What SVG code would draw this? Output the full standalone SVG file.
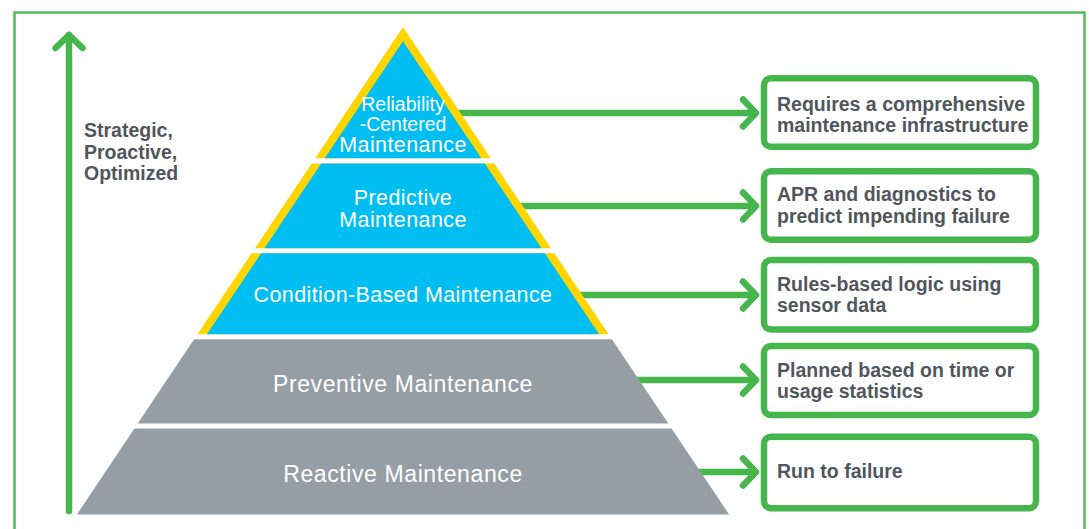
<svg xmlns="http://www.w3.org/2000/svg" width="1089" height="529" viewBox="0 0 1089 529">
  <defs>
    <style>
      .frame { fill: none; stroke: #4cb952; stroke-width: 2.4; }
      .rim { fill: #ffd500; }
      .blue { fill: #00bdf2; }
      .gray { fill: #969ea5; }
      .lvl { font-family: "Liberation Sans", Arial, sans-serif; fill: #ffffff; text-anchor: middle; }
      .lvl-s { font-size: 19.5px; }
      .lvl-m { font-size: 21.5px; letter-spacing: 0.4px; }
      .lvl-l { font-size: 23px; letter-spacing: 0.6px; }
      .note { font-family: "Liberation Sans", Arial, sans-serif; font-weight: bold; font-size: 19.5px; fill: #50565c; }
      .box { fill: #ffffff; stroke: #46b64c; stroke-width: 6.5; }
      .conn { fill: none; stroke: #46b64c; stroke-width: 6.5; }
    </style>
    <marker id="chev" markerUnits="userSpaceOnUse" viewBox="-20 -20 26 40" refX="0" refY="0" markerWidth="26" markerHeight="40" orient="auto" overflow="visible">
      <path d="M-13,-13.5 L0,0 L-13,13.5" fill="none" stroke="#46b64c" stroke-width="6.5" stroke-linecap="round" stroke-linejoin="round"/>
    </marker>
  </defs>

  <rect width="1089" height="529" fill="#ffffff"/>
  <!-- outer frame, open at the bottom edge of the view -->
  <rect class="frame" x="14.5" y="12.5" width="1070" height="600"/>

  <!-- axis label -->
  <g id="axis-label">
    <text class="note" x="84" y="137.3">Strategic,</text>
    <text class="note" x="84" y="158.6">Proactive,</text>
    <text class="note" x="84" y="180">Optimized</text>
  </g>

  <!-- connectors -->
  <g id="connectors">
    <line class="conn" x1="69" y1="511" x2="69" y2="35" stroke-linecap="round" marker-end="url(#chev)"/>
    <line class="conn" x1="458" y1="113" x2="756" y2="113" marker-end="url(#chev)"/>
    <line class="conn" x1="520" y1="206" x2="756" y2="206" marker-end="url(#chev)"/>
    <line class="conn" x1="579" y1="295" x2="756" y2="295" marker-end="url(#chev)"/>
    <line class="conn" x1="636" y1="380" x2="756" y2="380" marker-end="url(#chev)"/>
    <line class="conn" x1="698" y1="472" x2="756" y2="472" marker-end="url(#chev)"/>
  </g>

  <!-- pyramid levels -->
  <g id="level-rcm">
    <polygon class="rim" points="403,27 315.2,158.3 490.8,158.3"/>
    <polygon class="blue" points="403,41.2 324.7,158.3 481.3,158.3"/>
    <text class="lvl lvl-s" x="403" y="110.5">Reliability</text>
    <text class="lvl lvl-s" x="403" y="131.2">-Centered</text>
    <text class="lvl lvl-m" x="403" y="152.3">Maintenance</text>
  </g>
  <g id="level-predictive">
    <polygon class="rim" points="311.7,163.5 494.3,163.5 551,248.2 255,248.2"/>
    <polygon class="blue" points="321.2,163.5 484.8,163.5 541.5,248.2 264.5,248.2"/>
    <text class="lvl lvl-m" x="403" y="205">Predictive</text>
    <text class="lvl lvl-m" x="403" y="226.7">Maintenance</text>
  </g>
  <g id="level-condition">
    <polygon class="rim" points="251.6,253.3 554.4,253.3 608.6,334.3 197.4,334.3"/>
    <polygon class="blue" points="261.1,253.3 544.9,253.3 599.1,334.3 206.9,334.3"/>
    <text class="lvl lvl-m" x="403" y="301.7">Condition-Based Maintenance</text>
  </g>
  <g id="level-preventive">
    <polygon class="gray" points="194.1,339.3 611.9,339.3 668.3,423.5 137.7,423.5"/>
    <text class="lvl lvl-l" x="403" y="391.7">Preventive Maintenance</text>
  </g>
  <g id="level-reactive">
    <polygon class="gray" points="134.4,428.5 671.6,428.5 729.1,514.5 76.9,514.5"/>
    <text class="lvl lvl-l" x="403" y="481.7">Reactive Maintenance</text>
  </g>

  <!-- description boxes -->
  <g id="note-rcm">
    <rect class="box" x="764" y="78.3" width="272" height="68.5" rx="7"/>
    <text class="note" x="777" y="110.7">Requires a comprehensive</text>
    <text class="note" x="777" y="131.7">maintenance infrastructure</text>
  </g>
  <g id="note-predictive">
    <rect class="box" x="764" y="171.3" width="272" height="68.5" rx="7"/>
    <text class="note" x="777" y="201">APR and diagnostics to</text>
    <text class="note" x="777" y="223">predict impending failure</text>
  </g>
  <g id="note-condition">
    <rect class="box" x="764" y="260" width="272" height="69.5" rx="7"/>
    <text class="note" x="777" y="290.7">Rules-based logic using</text>
    <text class="note" x="777" y="312.3">sensor data</text>
  </g>
  <g id="note-preventive">
    <rect class="box" x="764" y="346" width="272" height="69" rx="7"/>
    <text class="note" x="777" y="376.7">Planned based on time or</text>
    <text class="note" x="777" y="397.7">usage statistics</text>
  </g>
  <g id="note-reactive">
    <rect class="box" x="764" y="436.7" width="272" height="71.5" rx="7"/>
    <text class="note" x="777" y="477.7">Run to failure</text>
  </g>
</svg>
